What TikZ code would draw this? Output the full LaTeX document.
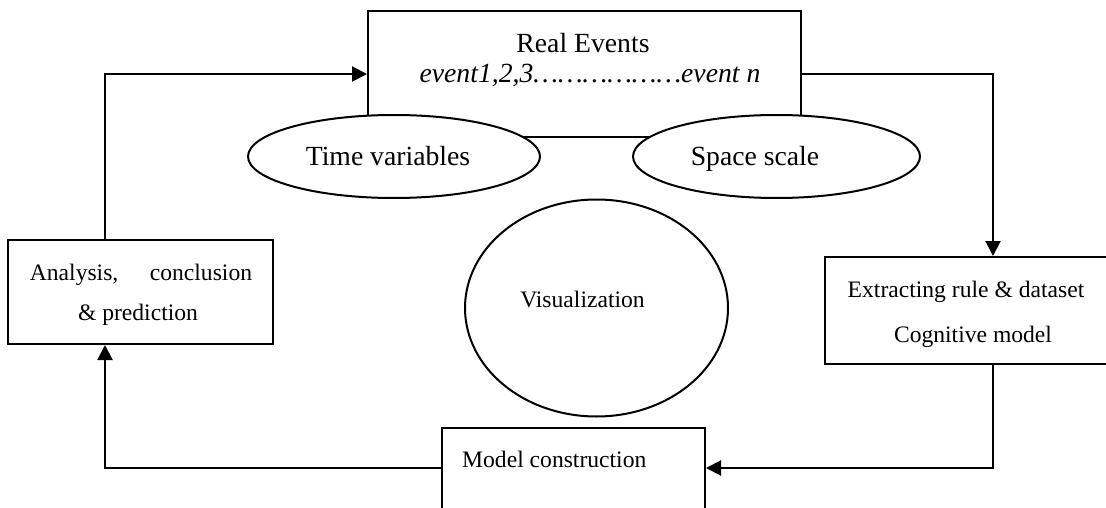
\documentclass[tikz,border=0pt]{standalone}
\usepackage{fontspec}
\setmainfont{Liberation Serif}
\usetikzlibrary{arrows.meta,shapes.geometric}
\tikzset{
  box/.style={draw, rectangle, inner sep=0pt, line width=2pt},
  oval/.style={draw, ellipse, fill=white, inner sep=0pt, line width=2pt},
  bigtext/.style={font=\fontsize{27.7pt}{30pt}\selectfont, inner sep=0pt, anchor=base},
  smalltext/.style={font=\fontsize{23.6pt}{28pt}\selectfont, inner sep=0pt, anchor=base},
  flow/.style={line width=2pt, -{Triangle[length=15pt,width=15pt]}},
}
\begin{document}
\begin{tikzpicture}[x=1pt,y=-1pt]
\clip (0,0) rectangle (1106,508);
\fill[white] (0,0) rectangle (1106,508);

% top box with the sequence of events
\node[box, minimum width=433pt, minimum height=126pt] (real) at (584.5,74) {};
\node[bigtext] (realtitle) at (583,53) {Real Events};
\node[bigtext] (realitems) at (590,83) {\itshape event1,2,3………………event n};

% time and space ovals overlapping the lower edge of the top box
\node[oval, minimum width=292pt, minimum height=83pt] (time) at (394,156.5) {};
\node[bigtext] (timetext) at (388,165) {Time variables};
\node[oval, minimum width=287pt, minimum height=83pt] (space) at (776.5,156.5) {};
\node[bigtext] (spacetext) at (755,165) {Space scale};

% central oval
\node[oval, minimum width=263pt, minimum height=217pt] (vis) at (596.5,308) {};
\node[smalltext] (vistext) at (582.5,307) {Visualization};

% left box
\node[box, minimum width=265pt, minimum height=104pt] (left) at (140.5,292) {};
\node[smalltext] (lefttext1) at (141,280) {Analysis,\hspace{31.5pt}conclusion};
\node[smalltext] (lefttext2) at (138,320) {\& prediction};

% right box
\node[box, minimum width=285pt, minimum height=107pt] (rbox) at (967.5,310.5) {};
\node[smalltext] (rtext1) at (966,297) {Extracting rule \& dataset};
\node[smalltext] (rtext2) at (973,342) {Cognitive model};

% bottom box
\node[box, minimum width=263pt, minimum height=120pt] (model) at (573.5,488) {};
\node[smalltext, anchor=base west] (modeltext) at (462,467) {Model construction};

% cycle of connectors
\draw[flow] ([xshift=-35.5pt]left.north) |- (real.west);
\draw[flow] (real.east) -| ([xshift=25.5pt]rbox.north);
\draw[flow] ([xshift=25.5pt]rbox.south) |- ([yshift=20pt]model.east);
\draw[flow] ([yshift=20pt]model.west) -| ([xshift=-35.5pt]left.south);
\end{tikzpicture}
\end{document}
